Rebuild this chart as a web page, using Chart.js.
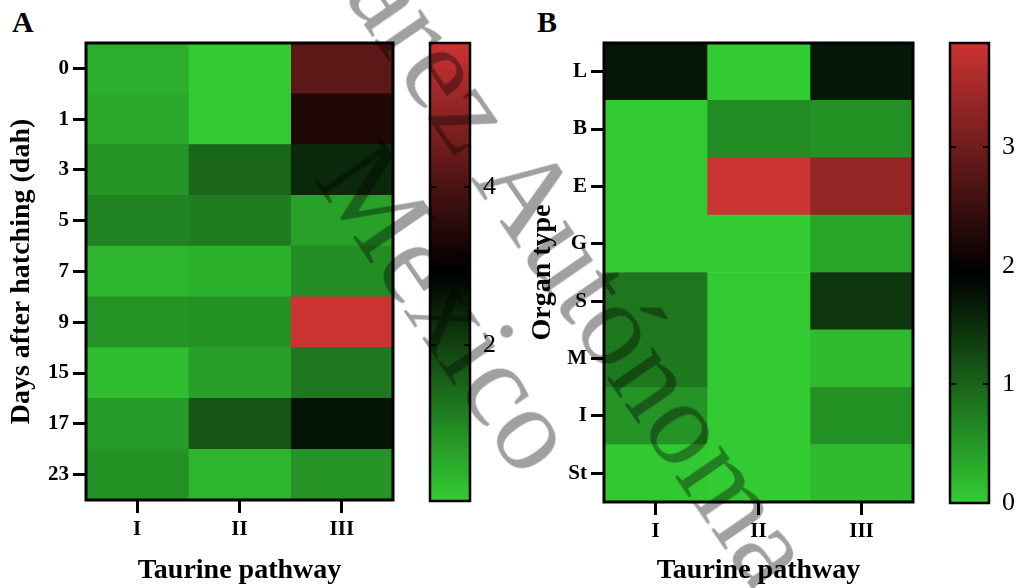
<!DOCTYPE html>
<html>
<head>
<meta charset="utf-8">
<script src="https://cdn.jsdelivr.net/npm/chart.js@4.4.1/dist/chart.umd.min.js"></script>
<style>
  html, body { margin: 0; padding: 0; background: #fff; }
  body { width: 1016px; height: 588px; position: relative; overflow: hidden; font-family: 'Liberation Serif', 'Times New Roman', serif; }
  canvas { position: absolute; top: 0; }
  .panel-label { position: absolute; top: 7px; font-weight: bold; font-size: 30px; line-height: 1; }
  .watermark { position: absolute; font-family: 'Liberation Serif', serif; font-size: 120px; line-height: 1; color: #a0a0a0;
               white-space: nowrap; transform-origin: 0 0; transform: rotate(55.5deg); mix-blend-mode: multiply; pointer-events: none; }
</style>
</head>
<body>
<div class="panel-label" style="left:12px">A</div>
<div class="panel-label" style="left:537px">B</div>
<canvas id="heat-a" width="410" height="588" style="left:0"></canvas>
<canvas id="bar-a" width="100" height="588" style="left:420px"></canvas>
<canvas id="heat-b" width="420" height="588" style="left:520px"></canvas>
<canvas id="bar-b" width="76" height="588" style="left:940px"></canvas>
<div class="watermark" style="left:365px;top:-150px">Juárez Autónoma</div>
<div class="watermark" style="left:395px;top:122px">México</div>
<script>
var pathways = ['I', 'II', 'III'];

// panel A: days after hatching
var dahLabels = ['0', '1', '3', '5', '7', '9', '15', '17', '23'];
var dahPathwayI   = [0.44, 0.52, 0.81, 1.07, 0.35, 0.84, 0.23, 0.72, 0.87];
var dahPathwayII  = [0.05, 0.05, 1.48, 1.16, 0.41, 0.87, 0.67, 1.71, 0.35];
var dahPathwayIII = [4.23, 3.39, 2.35, 0.64, 0.93, 5.82, 1.25, 2.63, 0.84];
var dahRange = [0.03, 5.82];
var dahBarTicks = [2, 4];

// panel B: organ type
var organLabels = ['L', 'B', 'E', 'G', 'S', 'M', 'I', 'St'];
var organPathwayI   = [1.72, 0.02, 0.02, 0.02, 0.81, 0.80, 0.54, 0.04];
var organPathwayII  = [0.00, 0.60, 3.88, 0.01, 0.01, 0.01, 0.01, 0.00];
var organPathwayIII = [1.70, 0.56, 3.36, 0.37, 1.42, 0.17, 0.56, 0.17];
var organRange = [0, 3.88];
var organBarTicks = [0, 1, 2, 3];

var LOW = [51, 204, 51];
var HIGH = [204, 51, 51];
var SERIF = "'Liberation Serif', 'Times New Roman', serif";

// green -> black -> red
function heatColor(v, range) {
  var mid = (range[0] + range[1]) / 2;
  var c, t;
  if (v <= mid) { t = (mid - v) / (mid - range[0]); c = LOW; }
  else { t = (v - mid) / (range[1] - mid); c = HIGH; }
  t = Math.max(0, Math.min(1, t));
  return 'rgb(' + c.map(function(x) { return Math.round(x * t); }).join(',') + ')';
}

var framePlugin = {
  id: 'frame',
  afterDatasetsDraw: function(chart, args, opts) {
    var a = chart.chartArea, ctx = chart.ctx;
    ctx.save();
    ctx.strokeStyle = '#000';
    ctx.lineWidth = opts.width;
    ctx.strokeRect(a.left, a.top, a.right - a.left, a.bottom - a.top);
    if (opts.dashes) {
      // little tick dashes inside the colour bar
      var y = chart.scales.y;
      ctx.lineWidth = 2;
      y.ticks.forEach(function(t) {
        var py = Math.round(y.getPixelForValue(t.value));
        ctx.beginPath();
        ctx.moveTo(a.left, py); ctx.lineTo(a.left + opts.dashes, py);
        ctx.moveTo(a.right - opts.dashes, py); ctx.lineTo(a.right, py);
        ctx.stroke();
      });
    }
    ctx.restore();
  }
};

function heatmap(id, rows, series, range, yTitle, yWidth, xHeight, titlePad, pad) {
  return new Chart(document.getElementById(id), {
    type: 'bar',
    data: {
      labels: rows,
      datasets: series.map(function(vals, i) {
        return {
          label: pathways[i],
          data: vals.map(function() { return 1; }),
          backgroundColor: vals.map(function(v) { return heatColor(v, range); }),
          borderWidth: 0,
          barPercentage: 1,
          categoryPercentage: 1
        };
      })
    },
    options: {
      indexAxis: 'y',
      responsive: false,
      animation: false,
      layout: { padding: pad },
      plugins: { legend: { display: false }, tooltip: { enabled: false }, frame: { width: 3 } },
      scales: {
        x: {
          type: 'linear', stacked: true, min: 0, max: pathways.length,
          afterBuildTicks: function(s) { s.ticks = pathways.map(function(p, i) { return { value: i + 0.5 }; }); },
          afterFit: function(s) { s.height = xHeight; },
          ticks: { callback: function(v, i) { return pathways[i]; }, color: '#000', maxRotation: 0, padding: 4,
                   font: { family: SERIF, size: 21, weight: 'bold' } },
          grid: { drawOnChartArea: false, tickLength: 13, lineWidth: 3, color: '#000' },
          border: { display: false },
          title: { display: true, text: 'Taurine pathway', color: '#000', padding: { top: 0, bottom: 0 },
                   font: { family: SERIF, size: 28, weight: 'bold' } }
        },
        y: {
          type: 'category', stacked: true,
          afterFit: function(s) { s.width = yWidth; },
          ticks: { autoSkip: false, color: '#000', padding: 4, font: { family: SERIF, size: 21, weight: 'bold' } },
          grid: { offset: false, drawOnChartArea: false, tickLength: 13, lineWidth: 3, color: '#000' },
          border: { display: false },
          title: { display: true, text: yTitle, color: '#000', padding: { top: titlePad, bottom: 0 },
                   font: { family: SERIF, size: 28, weight: 'bold' } }
        }
      }
    },
    plugins: [framePlugin]
  });
}

function colorBar(id, range, ticks, axisWidth, pad) {
  return new Chart(document.getElementById(id), {
    type: 'bar',
    data: {
      labels: [''],
      datasets: [{
        data: [range],
        borderWidth: 0,
        barPercentage: 1,
        categoryPercentage: 1,
        backgroundColor: function(ctx) {
          var chart = ctx.chart, y = chart.scales.y;
          if (!chart.chartArea || !y) return null;
          var g = chart.ctx.createLinearGradient(0, y.getPixelForValue(range[0]), 0, y.getPixelForValue(range[1]));
          g.addColorStop(0, heatColor(range[0], range));
          g.addColorStop(0.5, heatColor((range[0] + range[1]) / 2, range));
          g.addColorStop(1, heatColor(range[1], range));
          return g;
        }
      }]
    },
    options: {
      responsive: false,
      animation: false,
      layout: { padding: pad },
      plugins: { legend: { display: false }, tooltip: { enabled: false }, frame: { width: 2.5, dashes: 6 } },
      scales: {
        x: { display: false },
        y: {
          position: 'right', min: range[0], max: range[1],
          afterBuildTicks: function(s) { s.ticks = ticks.map(function(v) { return { value: v }; }); },
          afterFit: function(s) { s.width = axisWidth; },
          ticks: { color: '#000', padding: 13, font: { family: SERIF, size: 26 } },
          grid: { drawOnChartArea: false, drawTicks: false },
          border: { display: false }
        }
      }
    },
    plugins: [framePlugin]
  });
}

heatmap('heat-a', dahLabels, [dahPathwayI, dahPathwayII, dahPathwayIII], dahRange,
        'Days after hatching (dah)', 86, 88, 5, { left: 0, top: 43, right: 17, bottom: 0 });
colorBar('bar-a', dahRange, dahBarTicks, 50, { left: 10, top: 43, right: 0, bottom: 87 });

heatmap('heat-b', organLabels, [organPathwayI, organPathwayII, organPathwayIII], organRange,
        'Organ type', 84, 86, 6, { left: 0, top: 43, right: 27, bottom: 0 });
colorBar('bar-b', organRange, organBarTicks, 27, { left: 10, top: 43, right: 0, bottom: 85 });
</script>
</body>
</html>
